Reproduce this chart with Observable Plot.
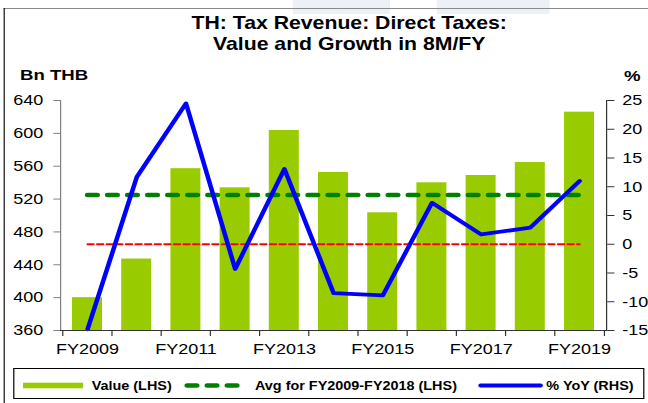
<!DOCTYPE html>
<html>
<head>
<meta charset="utf-8">
<script src="https://cdn.jsdelivr.net/npm/d3@7"></script>
<script src="https://cdn.jsdelivr.net/npm/@observablehq/plot@0.6"></script>
<style>
  html, body { margin: 0; padding: 0; background: #fff; overflow: hidden; }
  #page { position: relative; width: 648px; height: 403px; overflow: hidden; background: #fff; }
  #wrap { position: absolute; left: 0; top: 0; width: 540px; height: 403px;
          transform: scaleX(1.2); transform-origin: 0 0;
          font-family: "Liberation Sans", Arial, sans-serif; color: #000; }
  .abs { position: absolute; white-space: nowrap; }
  #title { left: 0; top: 13.1px; width: 582px; text-align: center; font-weight: bold;
           font-size: 17.7px; line-height: 20.5px; }
  .unit { font-weight: bold; font-size: 15.5px; line-height: 15.5px; }
  .wm { position: absolute; background: #eef0f7; }
  #topline { position: absolute; left: 3.3px; top: 7.5px; width: 540px; height: 1.5px; background: #8a8a8a; }
  #leftline { position: absolute; left: 3px; top: 7.5px; width: 1.3px; height: 400px; background: #111; }
  #chart { position: absolute; left: 0; top: 85px; }
  #legendbox { position: absolute; left: 11.1px; top: 367.7px; width: 523.7px; height: 29.6px; border: 1px solid #000; }
  .leg { font-weight: bold; font-size: 12px; line-height: 12px; top: 379.8px; }
  #legsw { position: absolute; left: 0; top: 370px; }
</style>
</head>
<body>
<div id="page">
  <div id="wrap">
    <div class="wm" style="left:244px;top:0;width:81px;height:14px"></div>
    <div class="wm" style="left:364px;top:0;width:94px;height:14px"></div>
    <div id="topline"></div>
    <div id="leftline"></div>
    <div id="title" class="abs"></div>
    <div id="unitL" class="abs unit" style="left:16.7px;top:66.9px"></div>
    <div id="unitR" class="abs unit" style="left:520px;top:67.9px"></div>
    <div id="chart"></div>
    <div id="legendbox"></div>
    <svg id="legsw" width="540" height="30"></svg>
    <div id="legtexts"></div>
  </div>
</div>
<script>
// ---- Data ----
const titleLines = ["TH: Tax Revenue: Direct Taxes:", "Value and Growth in 8M/FY"];
const unitLeft = "Bn THB";
const unitRight = "%";
const years = ["FY2009", "FY2010", "FY2011", "FY2012", "FY2013", "FY2014",
               "FY2015", "FY2016", "FY2017", "FY2018", "FY2019"];
const values = [400, 447, 557, 533.7, 603.5, 552.4, 503.3, 539.8, 548.7, 564.5, 625.8];
const yoy = [-14.8, 11.7, 24.5, -4.3, 13.1, -8.5, -8.9, 7.2, 1.7, 2.9, 11.0];
const avgYears = ["FY2009", "FY2018"];
const leftTicks = [360, 400, 440, 480, 520, 560, 600, 640];
const rightTicks = [-15, -10, -5, 0, 5, 10, 15, 20, 25];
const xLabels = ["FY2009", "FY2011", "FY2013", "FY2015", "FY2017", "FY2019"];
const legendLabels = ["Value (LHS)", "Avg for FY2009-FY2018 (LHS)", "% YoY (RHS)"];
const zeroGrowth = 0;

// ---- Derived ----
const data = years.map((year, i) => ({year, value: values[i], yoy: yoy[i]}));
const i0 = years.indexOf(avgYears[0]), i1 = years.indexOf(avgYears[1]);
const avg = d3.mean(values.slice(i0, i1 + 1));
const L0 = leftTicks[0], L1 = leftTicks[leftTicks.length - 1];
const R0 = rightTicks[0], R1 = rightTicks[rightTicks.length - 1];
const toLeft = p => L0 + (p - R0) * (L1 - L0) / (R1 - R0);

// ---- Texts ----
document.getElementById("title").innerHTML = titleLines.join("<br>");
document.getElementById("unitL").textContent = unitLeft;
document.getElementById("unitR").textContent = unitRight;

// ---- Colours ----
const barColor = "#99CC00", avgColor = "#008000", lineColor = "#0000FF", zeroColor = "#FF0000";

// ---- Chart ----
const W = 540, H = 277, ML = 50, MR = 35, MT = 15, MB = 32;
const step = (W - ML - MR) / years.length;

const chart = Plot.plot({
  width: W, height: H,
  marginLeft: ML, marginRight: MR, marginTop: MT, marginBottom: MB,
  style: {fontFamily: "'Liberation Sans', Arial, sans-serif", fontSize: "15px", color: "#000", background: "transparent"},
  x: {type: "band", domain: years, paddingInner: 0.38, paddingOuter: 0.19},
  y: {domain: [L0, L1]},
  marks: [
    Plot.barY(data, {x: "year", y1: L0, y2: "value", fill: barColor}),
    Plot.lineY(data, {x: "year", y: () => toLeft(zeroGrowth), stroke: zeroColor, strokeWidth: 2, strokeDasharray: "5,3"}),
    Plot.lineY(data, {x: "year", y: () => avg, stroke: avgColor, strokeWidth: 4.5, strokeDasharray: "8,8.7", strokeLinecap: "round"}),
    Plot.lineY(data, {x: "year", y: d => toLeft(d.yoy), stroke: lineColor, strokeWidth: 3.8}),
    Plot.frame({anchor: "left", stroke: "#808080"}),
    Plot.frame({anchor: "right", stroke: "#333"}),
    Plot.frame({anchor: "bottom", stroke: "#333"}),
    Plot.axisY({anchor: "left", ticks: leftTicks, tickSize: 5.5, tickPadding: 9, stroke: "#808080", fill: "#000", label: null}),
    Plot.axisY({anchor: "right", ticks: rightTicks.map(toLeft), tickFormat: (v, i) => String(rightTicks[i]),
                tickSize: 6, tickPadding: 7, stroke: "#333", fill: "#000", label: null}),
    Plot.axisX({ticks: years, tickSize: 6, fill: "none", stroke: "#333", dx: -step / 2, label: null}),
    Plot.axisX({ticks: [years[years.length - 1]], tickSize: 6, fill: "none", stroke: "#333", dx: step / 2, label: null}),
    Plot.axisX({ticks: xLabels, tickSize: 0, tickPadding: 13, fill: "#000", label: null})
  ]
});
document.getElementById("chart").appendChild(chart);

// ---- Legend ----
const sw = d3.select("#legsw");
sw.append("rect").attr("x", 19.2).attr("y", 12.7).attr("width", 50).attr("height", 5.6).attr("fill", barColor);
sw.append("line").attr("x1", 156).attr("x2", 205).attr("y1", 15.5).attr("y2", 15.5)
  .attr("stroke", avgColor).attr("stroke-width", 4.5).attr("stroke-dasharray", "8,8.7").attr("stroke-linecap", "round");
sw.append("line").attr("x1", 400.5).attr("x2", 450.5).attr("y1", 15.5).attr("y2", 15.5)
  .attr("stroke", lineColor).attr("stroke-width", 3.8).attr("stroke-linecap", "round");
const legX = [76.4, 212.5, 455.3];
const lt = document.getElementById("legtexts");
legendLabels.forEach((t, i) => {
  const s = document.createElement("div");
  s.className = "abs leg";
  s.style.left = legX[i] + "px";
  s.textContent = t;
  lt.appendChild(s);
});
</script>
</body>
</html>
